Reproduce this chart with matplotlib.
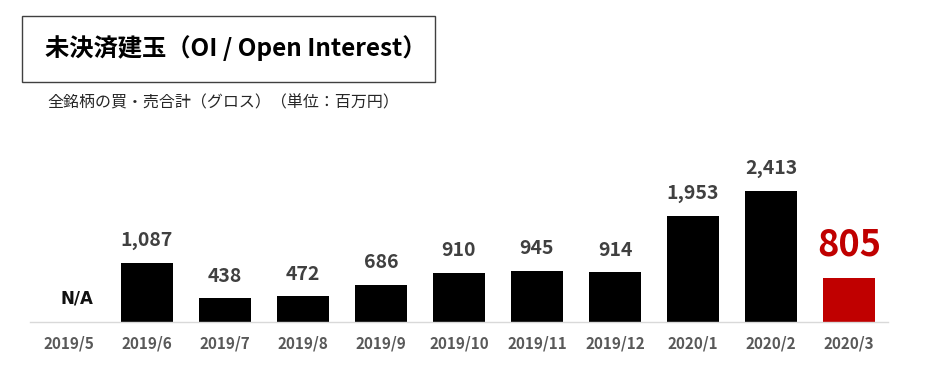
import matplotlib
matplotlib.use("Agg")
import matplotlib.pyplot as plt
from matplotlib.patches import Rectangle

plt.rcParams['font.family'] = ['Noto Sans CJK JP', 'DejaVu Sans']

categories = ["2019/5", "2019/6", "2019/7", "2019/8", "2019/9", "2019/10",
              "2019/11", "2019/12", "2020/1", "2020/2", "2020/3"]
values = [None, 1087, 438, 472, 686, 910, 945, 914, 1953, 2413, 805]
labels = ["N/A", "1,087", "438", "472", "686", "910", "945", "914", "1,953", "2,413", "805"]
title = "未決済建玉（OI / Open Interest）"
subtitle = "全銘柄の買・売合計（グロス）（単位：百万円）"

W, H = 926, 369
fig = plt.figure(figsize=(W / 100, H / 100), dpi=100)

# axes: x from 30 to 888 px, bottom at y=322
ax_left, ax_right = 30, 888
ax_bottom_px, ax_top_px = 322, 159
ax = fig.add_axes([ax_left / W, (H - ax_bottom_px) / H,
                   (ax_right - ax_left) / W, (ax_bottom_px - ax_top_px) / H])
ax.set_xlim(-0.5, len(categories) - 0.5)
ax.set_ylim(0, 3000)

bar_w = 52 / 78
for i, v in enumerate(values):
    if v is None:
        ax.text(i + 0.1, 260, labels[i], ha='center', va='bottom', fontsize=12,
                fontweight='bold', color='#111111', family='DejaVu Sans')
        continue
    last = i == len(values) - 1
    color = '#C00000' if last else '#000000'
    ax.bar(i, v, width=bar_w, color=color, zorder=2)
    if last:
        ax.text(i, v + 280, labels[i], ha='center', va='bottom', fontsize=26,
                fontweight='bold', color='#C00000')
    else:
        ax.text(i, v + 230, labels[i], ha='center', va='bottom', fontsize=14,
                fontweight='bold', color='#404040')

for s in ['top', 'right', 'left']:
    ax.spines[s].set_visible(False)
ax.spines['bottom'].set_color('#d9d9d9')
ax.spines['bottom'].set_linewidth(1.0)
ax.set_yticks([])
ax.set_xticks(range(len(categories)))
ax.set_xticklabels(categories, fontsize=11, fontweight='bold', color='#595959')
ax.tick_params(axis='x', length=0, pad=10)

# title box
fig.patches.append(Rectangle((22 / W, 1 - 82 / H), (435 - 22) / W, (82 - 16) / H,
                             transform=fig.transFigure, fill=False,
                             edgecolor='#404040', linewidth=1.0))
fig.text(45 / W, 1 - 48 / H, title, ha='left', va='center', fontsize=17.5,
         fontweight='bold', color='#000000')
fig.text(47 / W, 1 - 103 / H, subtitle, ha='left', va='center', fontsize=11.5,
         color='#262626')

fig.savefig("out.png", dpi=100)
